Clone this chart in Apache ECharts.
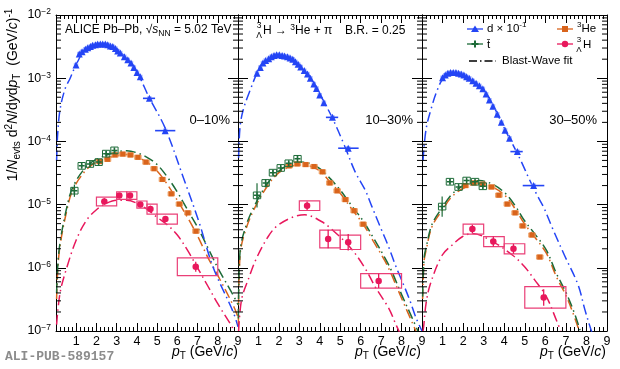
<!DOCTYPE html>
<html><head><meta charset="utf-8">
<script src="https://cdn.jsdelivr.net/npm/echarts@6.0.0/dist/echarts.min.js"></script>
<style>html,body{margin:0;padding:0;background:#fff;}#chart{width:620px;height:369px;}</style>
</head><body><div id="chart"></div>
<script>
// ================= DATA =================
const centralityLabels = ['0–10%', '10–30%', '30–50%'];
const xTickLabels = ['', '1', '2', '3', '4', '5', '6', '7', '8', '9'];
const yRange = [1e-7, 1e-2];

// deuteron (x 0.1) [pT, value]
const deut_0_10 = [[0.99,1.62e-3],[1.15,2.42e-3],[1.29,2.63e-3],[1.45,2.88e-3],[1.57,3.02e-3],[1.70,3.16e-3],[1.81,3.31e-3],[1.95,3.39e-3],[2.06,3.47e-3],[2.19,3.47e-3],[2.31,3.47e-3],[2.44,3.47e-3],[2.56,3.39e-3],[2.69,3.24e-3],[2.81,3.16e-3],[2.94,2.95e-3],[3.05,2.69e-3],[3.18,2.51e-3],[3.38,2.19e-3],[3.55,1.95e-3],[3.71,1.74e-3],[3.85,1.48e-3],[4.01,1.23e-3],[4.17,1.05e-3]];
const deut_10_30 = [[0.93,1.20e-3],[1.09,1.48e-3],[1.22,1.74e-3],[1.35,1.91e-3],[1.50,2.04e-3],[1.63,2.19e-3],[1.76,2.29e-3],[1.89,2.34e-3],[2.02,2.34e-3],[2.16,2.29e-3],[2.28,2.24e-3],[2.42,2.19e-3],[2.55,2.09e-3],[2.68,2.00e-3],[2.81,1.82e-3],[2.94,1.66e-3],[3.07,1.51e-3],[3.24,1.32e-3],[3.40,1.17e-3],[3.54,1.00e-3],[3.71,8.1e-4],[3.84,6.9e-4],[4.00,5.4e-4],[4.20,4.1e-4]];
const deut_30_50 = [[1.00,1.02e-3],[1.13,1.12e-3],[1.26,1.20e-3],[1.39,1.23e-3],[1.52,1.23e-3],[1.65,1.23e-3],[1.78,1.20e-3],[1.91,1.17e-3],[2.04,1.12e-3],[2.17,1.05e-3],[2.30,1.0e-3],[2.47,9.1e-4],[2.63,8.3e-4],[2.79,7.6e-4],[2.96,6.8e-4],[3.12,5.6e-4],[3.28,4.5e-4],[3.45,3.6e-4],[3.66,2.7e-4],[3.86,2.0e-4],[4.04,1.5e-4],[4.26,1.12e-4]];
// deuteron wide bins [pT, value, pTlow, pThigh]
const deutWide_0_10 = [[4.62,4.8e-4,4.3,4.9],[5.40,1.48e-4,4.9,5.9]];
const deutWide_10_30 = [[4.62,2.4e-4,4.3,4.9],[5.39,7.8e-5,4.9,5.9]];
const deutWide_30_50 = [[4.64,6.9e-5,4.3,4.9],[5.43,2.0e-5,4.9,5.95]];
const deutSysRel = 0.08;

// triton [pT, value, relative stat. error]
const tri_0_10 = [[0.91,1.66e-5,0.25],[1.27,4.1e-5,0.08],[1.68,4.4e-5,0.06],[2.11,4.7e-5,0.06],[2.48,6.4e-5,0.1],[2.89,7.2e-5,0.1]];
const tri_10_30 = [[0.93,1.4e-5,0.55],[1.35,2.2e-5,0.15],[1.71,3.2e-5,0.1],[2.09,3.8e-5,0.08],[2.48,4.5e-5,0.08],[2.91,5.3e-5,0.12]];
const tri_30_50 = [[0.98,9.3e-6,0.45],[1.36,2.3e-5,0.1],[1.78,1.9e-5,0.08],[2.17,2.4e-5,0.06],[2.58,2.3e-5,0.06],[2.96,1.95e-5,0.08]];
const triSysRel = 0.13;

// 3He [pT, value]
const he_0_10 = [[2.15,4.8e-5],[2.55,5.2e-5],[2.92,6.1e-5],[3.30,6.3e-5],[3.68,6.1e-5],[4.05,5.6e-5],[4.45,4.7e-5],[4.85,3.7e-5],[5.26,2.5e-5],[5.70,1.48e-5],[6.10,1.02e-5],[6.52,7.4e-6],[6.92,3.8e-6]];
const he_10_30 = [[2.50,4.1e-5],[2.90,4.4e-5],[3.31,4.3e-5],[3.72,4.0e-5],[4.13,3.3e-5],[4.49,2.2e-5],[4.85,1.65e-5],[5.25,1.2e-5],[5.68,8.0e-6],[6.12,4.9e-6]];
const he_30_50 = [[2.11,2.0e-5],[2.52,2.2e-5],[2.95,2.1e-5],[3.38,1.9e-5],[3.74,1.41e-5],[4.15,1.02e-5],[4.53,7.4e-6],[4.90,4.6e-6],[5.35,3.3e-6],[5.73,1.48e-6]];
const heSysRel = 0.08;

// hypertriton [pT, value, binLow, binHigh, rel. stat, rel. syst]
const hyp_0_10 = [[2.39,1.12e-5,2,3,0.13,0.17],[3.13,1.39e-5,3,3.5,0.10,0.15],[3.66,1.39e-5,3.5,4,0.10,0.15],[4.17,1.0e-5,4,4.5,0.10,0.14],[4.67,8.5e-6,4.5,5,0.13,0.2],[5.41,5.9e-6,5,6,0.12,0.2],[6.91,1.04e-6,6,8,0.2,0.38]];
const hyp_10_30 = [[3.38,9.6e-6,3,4,0.17,0.19],[4.41,2.86e-6,4,5,0.4,0.38],[5.39,2.53e-6,5,6,0.35,0.3],[6.88,6.2e-7,6,8,0.3,0.3]];
const hyp_30_50 = [[2.45,4.1e-6,2,3,0.17,0.2],[3.47,2.6e-6,3,4,0.2,0.2],[4.45,2.0e-6,4,5,0.2,0.2],[5.92,3.4e-7,5,7,0.35,0.48]];

// Blast-Wave fits [pT, value]
const fitD_0_10 = [[0.03,5.0e-5],[0.08,1.26e-4],[0.2,3.2e-4],[0.45,6.8e-4],[0.7,1.0e-3],[1.0,1.65e-3],[1.5,2.95e-3],[2.2,3.47e-3],[3.0,2.82e-3],[3.5,2.04e-3],[4.0,1.26e-3],[4.6,5.0e-4],[5.4,1.62e-4],[6.34,2.45e-5],[7.08,5.2e-6],[7.77,1.02e-6],[8.76,2.0e-7],[9.0,1.17e-7]];
const fitD_10_30 = [[0.03,5.5e-5],[0.1,1.7e-4],[0.26,3.2e-4],[0.59,6.4e-4],[1.0,1.32e-3],[1.5,2.04e-3],[2.0,2.4e-3],[2.5,2.24e-3],[3.0,1.62e-3],[3.5,1.05e-3],[4.0,5.6e-4],[4.6,2.4e-4],[5.2,8.7e-5],[5.73,3.3e-5],[6.22,1.7e-5],[6.55,9.3e-6],[6.99,4.2e-6],[7.37,2.14e-6],[7.7,1.1e-6],[8.1,5.4e-7],[8.43,2.9e-7],[8.68,1.7e-7],[9.0,1.0e-7]];
const fitD_30_50 = [[0.05,5.0e-5],[0.2,1.58e-4],[0.47,3.5e-4],[0.72,6.2e-4],[1.0,9.5e-4],[1.5,1.23e-3],[2.0,1.15e-3],[2.5,9.1e-4],[3.0,6.5e-4],[3.5,3.5e-4],[4.0,1.62e-4],[4.5,7.9e-5],[4.87,4.5e-5],[5.2,2.6e-5],[5.6,1.41e-5],[5.93,8.9e-6],[6.35,4.2e-6],[6.93,1.58e-6],[7.59,5.4e-7],[7.92,2.2e-7],[8.2,1.1e-7],[8.3,9e-8]];

const fitT_0_10 = [[0.03,4.0e-7],[0.16,2.0e-6],[0.6,1.12e-5],[0.9,2.1e-5],[1.5,4.0e-5],[2.0,5.2e-5],[3.0,6.8e-5],[3.5,7.1e-5],[4.0,6.6e-5],[4.5,5.6e-5],[5.0,4.3e-5],[5.5,2.75e-5],[6.0,1.58e-5],[6.5,8.3e-6],[7.0,4.4e-6],[7.5,2.1e-6],[8.0,1.0e-6],[8.8,3.5e-7],[9.0,2.6e-7]];
const fitT_10_30 = [[0.02,1.58e-7],[0.1,1.78e-6],[0.4,4.7e-6],[0.9,1.1e-5],[1.5,2.3e-5],[2.0,3.4e-5],[2.5,4.3e-5],[3.0,4.7e-5],[3.5,4.5e-5],[4.0,3.7e-5],[4.5,2.6e-5],[5.0,1.7e-5],[5.5,1.02e-5],[6.14,5.4e-6],[6.63,2.95e-6],[7.2,1.41e-6],[7.5,9.1e-7],[8.0,3.8e-7],[8.5,1.66e-7],[8.8,1.0e-7]];
const fitT_30_50 = [[0.03,3.5e-7],[0.1,1.41e-6],[0.2,2.1e-6],[0.49,4.9e-6],[0.98,8.9e-6],[1.47,1.48e-5],[2.13,2.1e-5],[2.78,2.4e-5],[3.43,2.1e-5],[4.08,1.48e-5],[4.58,9.1e-6],[4.98,5.6e-6],[5.47,3.5e-6],[6.05,1.9e-6],[6.54,8.1e-7],[7.03,3.9e-7],[7.44,1.82e-7],[7.7,1.0e-7]];

const fitHe_0_10 = [[0.03,3.2e-7],[0.16,1.78e-6],[0.6,1.0e-5],[0.9,1.9e-5],[1.5,3.55e-5],[2.0,4.7e-5],[3.0,6.0e-5],[3.5,6.2e-5],[4.0,5.6e-5],[4.5,4.7e-5],[5.0,3.4e-5],[5.5,2.1e-5],[6.0,1.17e-5],[6.5,6.3e-6],[7.0,3.2e-6],[7.5,1.48e-6],[8.0,7.6e-7],[8.8,2.4e-7],[9.0,1.66e-7]];
const fitHe_10_30 = [[0.02,1.26e-7],[0.1,1.58e-6],[0.4,4.2e-6],[0.9,1.0e-5],[1.5,2.1e-5],[2.0,3.2e-5],[2.5,3.9e-5],[3.0,4.3e-5],[3.5,4.1e-5],[4.0,3.4e-5],[4.5,2.3e-5],[5.0,1.51e-5],[5.5,9.1e-6],[6.14,4.8e-6],[6.63,2.6e-6],[7.2,1.26e-6],[7.5,7.9e-7],[8.0,3.3e-7],[8.5,1.41e-7],[8.7,1.0e-7]];
const fitHe_30_50 = [[0.03,3.2e-7],[0.1,1.26e-6],[0.2,1.9e-6],[0.49,4.5e-6],[0.98,8.1e-6],[1.47,1.35e-5],[2.13,1.9e-5],[2.78,2.2e-5],[3.43,1.9e-5],[4.08,1.35e-5],[4.58,8.1e-6],[4.98,5.0e-6],[5.47,3.1e-6],[6.05,1.7e-6],[6.54,7.2e-7],[7.03,3.5e-7],[7.44,1.58e-7],[7.65,1.0e-7]];

const fitH_0_10 = [[0.03,1.26e-7],[0.2,4.0e-7],[0.5,9.3e-7],[1.0,2.75e-6],[1.5,5.6e-6],[2.0,8.3e-6],[2.5,1.05e-5],[3.0,1.17e-5],[3.5,1.17e-5],[4.0,1.05e-5],[4.5,8.5e-6],[5.0,6.3e-6],[5.5,4.8e-6],[6.0,3.3e-6],[6.5,1.9e-6],[7.0,1.0e-6],[7.5,5.2e-7],[8.0,2.7e-7],[8.7,1.17e-7],[8.85,8.9e-8]];
const fitH_10_30 = [[0.03,1.0e-7],[0.18,3.2e-7],[0.55,7.2e-7],[0.9,1.41e-6],[1.47,3.1e-6],[1.88,4.5e-6],[2.61,6.2e-6],[3.27,6.9e-6],[4.08,5.4e-6],[4.57,4.1e-6],[5.47,2.14e-6],[6.22,9.8e-7],[6.71,5.0e-7],[7.37,2.3e-7],[7.7,1.32e-7],[7.9,9.5e-8]];
const fitH_30_50 = [[0.05,1.0e-7],[0.08,1.17e-7],[0.2,2.75e-7],[0.41,5.6e-7],[0.98,1.58e-6],[1.47,2.3e-6],[1.96,3.1e-6],[2.45,3.5e-6],[3.43,2.6e-6],[4.41,1.58e-6],[4.98,1.05e-6],[5.47,6.5e-7],[6.05,3.5e-7],[6.54,1.48e-7],[6.75,1.0e-7]];

// ================= STYLE =================
const FONT = '"Liberation Sans", Arial, Helvetica, sans-serif';
const COL = {d:'#2445f5', dBox:'#a9b9ff', t:'#1d6b38', he:'#d9641c', heBox:'rgba(238,140,70,0.75)', heBoxLine:'#ec9a5c', h:'#e8185c', hBox:'#ea3f77'};
const DASH = [10, 4, 1.5, 4];
const grids = [
  {left:56, top:15, width:182, height:316},
  {left:238, top:15, width:184, height:316},
  {left:422, top:15, width:185, height:316}
];
const BOX_HW = {d:0.11, t:0.18, he:0.16};

const panels = [
  {deut:deut_0_10, deutWide:deutWide_0_10, tri:tri_0_10, he:he_0_10, hyp:hyp_0_10, fD:fitD_0_10, fT:fitT_0_10, fHe:fitHe_0_10, fH:fitH_0_10},
  {deut:deut_10_30, deutWide:deutWide_10_30, tri:tri_10_30, he:he_10_30, hyp:hyp_10_30, fD:fitD_10_30, fT:fitT_10_30, fHe:fitHe_10_30, fH:fitH_10_30},
  {deut:deut_30_50, deutWide:deutWide_30_50, tri:tri_30_50, he:he_30_50, hyp:hyp_30_50, fD:fitD_30_50, fT:fitT_30_50, fHe:fitHe_30_50, fH:fitH_30_50}
];

const yMinorTicks = [];
for (let e = -7; e < -2; e++) for (let m = 2; m <= 9; m++) yMinorTicks.push([0, Number((m * Math.pow(10, e)).toPrecision(3))]);

function axIdx(i){ return {xAxisIndex: 2*i, yAxisIndex: 2*i}; }

function rectSeries(i, items, style, z){
  return Object.assign({type:'custom', z:z, silent:true, clip:false, data:items,
    encode:{x:[0,1], y:[2,3]},
    renderItem:(p, api) => {
      const a = api.coord([api.value(0), api.value(3)]);
      const b = api.coord([api.value(1), api.value(2)]);
      return {type:'rect', shape:{x:a[0], y:a[1], width:b[0]-a[0], height:b[1]-a[1]}, style:style};
    }}, axIdx(i));
}
function vbarSeries(i, items, color, w, z){
  return Object.assign({type:'custom', z:z, silent:true, clip:false, data:items,
    encode:{x:0, y:[1,2]},
    renderItem:(p, api) => {
      const a = api.coord([api.value(0), api.value(1)]);
      const b = api.coord([api.value(0), api.value(2)]);
      return {type:'line', shape:{x1:a[0], y1:a[1], x2:b[0], y2:b[1]}, style:{stroke:color, lineWidth:w}};
    }}, axIdx(i));
}
function hbarSeries(i, items, color, w, z){
  return Object.assign({type:'custom', z:z, silent:true, clip:false, data:items,
    encode:{x:[0,1], y:2},
    renderItem:(p, api) => {
      const a = api.coord([api.value(0), api.value(2)]);
      const b = api.coord([api.value(1), api.value(2)]);
      return {type:'line', shape:{x1:a[0], y1:a[1], x2:b[0], y2:b[1]}, style:{stroke:color, lineWidth:w}};
    }}, axIdx(i));
}
function fitSeries(i, data, color){
  return Object.assign({type:'line', data:data, showSymbol:false, smooth:0.35, z:2, silent:true,
    lineStyle:{color:color, width:1.5, type:DASH}}, axIdx(i));
}
function scatterSeries(i, data, symbol, size, color, z){
  return Object.assign({type:'scatter', data:data, symbol:symbol, symbolSize:size, z:z, silent:true,
    itemStyle:{color:color, opacity:1}}, axIdx(i));
}
const PLUS = 'path://M3,0H5V3H8V5H5V8H3V5H0V3H3Z';

const series = [];
panels.forEach((P, i) => {
  series.push(fitSeries(i, P.fHe, COL.he));
  series.push(fitSeries(i, P.fT, COL.t));
  series.push(fitSeries(i, P.fH, COL.h));
  series.push(fitSeries(i, P.fD, COL.d));
  // deuteron
  const dAll = P.deut.concat(P.deutWide.map(r => [r[0], r[1]]));
  series.push(rectSeries(i, dAll.map(r => [r[0]-BOX_HW.d, r[0]+BOX_HW.d, r[1]/(1+deutSysRel), r[1]*(1+deutSysRel)]), {fill:COL.dBox, stroke:null}, 4));
  series.push(hbarSeries(i, P.deutWide.map(r => [r[2], r[3], r[1]]), COL.d, 1.6, 5));
  series.push(scatterSeries(i, dAll.map(r => [r[0], r[1]]), 'triangle', 7, COL.d, 6));
  // 3He
  series.push(rectSeries(i, P.he.map(r => [r[0]-BOX_HW.he, r[0]+BOX_HW.he, r[1]/(1+heSysRel), r[1]*(1+heSysRel)]), {fill:COL.heBox, stroke:COL.heBoxLine, lineWidth:0.8}, 4));
  series.push(scatterSeries(i, P.he.map(r => [r[0], r[1]]), 'rect', 5, COL.he, 6));
  // triton
  series.push(rectSeries(i, P.tri.map(r => [r[0]-BOX_HW.t, r[0]+BOX_HW.t, r[1]/(1+triSysRel), r[1]*(1+triSysRel)]), {fill:'rgba(255,255,255,0)', stroke:COL.t, lineWidth:1}, 7));
  series.push(vbarSeries(i, P.tri.map(r => [r[0], r[1]/(1+r[2]), r[1]*(1+r[2])]), COL.t, 1.2, 7));
  series.push(scatterSeries(i, P.tri.map(r => [r[0], r[1]]), PLUS, 6, COL.t, 8));
  // hypertriton
  series.push(rectSeries(i, P.hyp.map(r => [r[2], r[3], r[1]/(1+r[5]), r[1]*(1+r[5])]), {fill:'rgba(255,255,255,0)', stroke:COL.hBox, lineWidth:1.2}, 9));
  series.push(vbarSeries(i, P.hyp.map(r => [r[0], r[1]/(1+r[4]), r[1]*(1+r[4])]), COL.h, 1.3, 9));
  series.push(scatterSeries(i, P.hyp.map(r => [r[0], r[1]]), 'circle', 6.5, COL.h, 10));
  // log minor ticks (left & right)
  series.push(Object.assign({type:'custom', z:20, silent:true, clip:false, data:yMinorTicks,
    renderItem:(p, api) => {
      const v = api.value(1);
      const L = api.coord([0, v]); const R = api.coord([9, v]);
      return {type:'group', children:[
        {type:'line', shape:{x1:L[0], y1:L[1], x2:L[0]+5, y2:L[1]}, style:{stroke:'#000', lineWidth:1}},
        {type:'line', shape:{x1:R[0], y1:R[1], x2:R[0]-5, y2:R[1]}, style:{stroke:'#000', lineWidth:1}}
      ]};
    }}, axIdx(i)));
});

const xAxes = [], yAxes = [];
grids.forEach((g, i) => {
  const base = {type:'value', gridIndex:i, min:0, max:9, interval:1,
    axisLine:{onZero:false, lineStyle:{color:'#000', width:1}},
    axisTick:{inside:true, length:8, lineStyle:{color:'#000', width:1}},
    minorTick:{show:true, splitNumber:5, length:4, lineStyle:{color:'#000', width:1}},
    splitLine:{show:false}, minorSplitLine:{show:false}};
  xAxes.push(Object.assign({}, base, {position:'bottom',
    axisLabel:{show:true, color:'#000', fontSize:12.5, fontFamily:FONT, margin:4,
      formatter:v => xTickLabels[Math.round(v)] || ''}}));
  xAxes.push(Object.assign({}, base, {position:'top', axisLabel:{show:false}}));
  const ybase = {type:'log', logBase:10, gridIndex:i, min:yRange[0], max:yRange[1], splitNumber:5,
    axisLine:{onZero:false, lineStyle:{color:'#000', width:1}},
    axisTick:{inside:true, length:10, lineStyle:{color:'#000', width:1}},
    splitLine:{show:false}};
  yAxes.push(Object.assign({}, ybase, {position:'left',
    axisLabel:{show:i === 0, margin:5,
      formatter:v => '{b|10}{e|−' + Math.round(-Math.log10(v)) + '}',
      rich:{b:{fontSize:12.5, fontFamily:FONT, color:'#000', lineHeight:15}, e:{fontSize:8.5, fontFamily:FONT, color:'#000', verticalAlign:'top', lineHeight:9}}}}));
  yAxes.push(Object.assign({}, ybase, {position:'right', axisLabel:{show:false}}));
});

function mkRich(fs, ss){
  return {
    n:{fontSize:fs, fontFamily:FONT, lineHeight:fs + 4},
    i:{fontSize:fs, fontFamily:FONT, fontStyle:'italic', lineHeight:fs + 4},
    sup:{fontSize:ss, fontFamily:FONT, verticalAlign:'top', lineHeight:ss},
    sub:{fontSize:ss, fontFamily:FONT, verticalAlign:'bottom', lineHeight:ss}
  };
}
const R12 = mkRich(12, 8.5), R13 = mkRich(13, 9), R115 = mkRich(11.5, 8), XR = mkRich(14, 10);
function T(x, y, text, extra){
  return {type:'text', x:x, y:y, z:100, silent:true,
    style:Object.assign({text:text, fill:'#000', font:'13px ' + FONT, rich:R13, verticalAlign:'middle', align:'left'}, extra || {})};
}
const xTitle = '{i|p}{sub|T}{n| (GeV/}{i|c}{n|)}';

const graphic = [
  // header texts
  T(65, 30, '{n|ALICE Pb–Pb, √}{i|s}{sub|NN}{n| = 5.02 TeV}', {rich:R12, font:'12px ' + FONT}),
  T(259, 26, '3', {font:'8.5px ' + FONT, align:'center'}),
  T(259, 36, 'Λ', {font:'8.5px ' + FONT, align:'center'}),
  T(263, 31, '{n|H → }{sup|3}{n|He + π}', {rich:R12, font:'12px ' + FONT}),
  T(345, 31, 'B.R. = 0.25', {font:'12px ' + FONT}),
  // centralities
  T(230, 120, centralityLabels[0], {align:'right'}),
  T(413, 120, centralityLabels[1], {align:'right'}),
  T(597, 120, centralityLabels[2], {align:'right'}),
  // legend
  {type:'line', z:100, shape:{x1:467, y1:29, x2:483, y2:29}, style:{stroke:COL.d, lineWidth:1.3}},
  {type:'polygon', z:100, shape:{points:[[475,25.5],[479,32],[471,32]]}, style:{fill:COL.d}},
  T(487, 29, '{n|d × 10}{sup|-1}', {rich:R115, font:'11.5px ' + FONT}),
  {type:'line', z:100, shape:{x1:557, y1:29, x2:573, y2:29}, style:{stroke:COL.he, lineWidth:1.3}},
  {type:'rect', z:100, shape:{x:562, y:26, width:6, height:6}, style:{fill:COL.he}},
  T(577, 29, '{sup|3}{n|He}', {rich:R115, font:'11.5px ' + FONT}),
  {type:'line', z:100, shape:{x1:467, y1:44, x2:483, y2:44}, style:{stroke:COL.t, lineWidth:1.3}},
  {type:'polygon', z:100, shape:{points:[[474,40.5],[476,40.5],[476,43],[478.5,43],[478.5,45],[476,45],[476,47.5],[474,47.5],[474,45],[471.5,45],[471.5,43],[474,43]]}, style:{fill:COL.t}},
  T(487, 45, 't̄', {font:'11.5px ' + FONT}),
  {type:'line', z:100, shape:{x1:557, y1:44, x2:573, y2:44}, style:{stroke:COL.h, lineWidth:1.3}},
  {type:'circle', z:100, shape:{cx:565, cy:44, r:3.2}, style:{fill:COL.h}},
  T(579, 40, '3', {font:'8px ' + FONT, align:'center'}),
  T(579, 50, 'Λ', {font:'8px ' + FONT, align:'center'}),
  T(583, 45, 'H', {font:'11.5px ' + FONT}),
  {type:'line', z:100, shape:{x1:469, y1:61, x2:496, y2:61}, style:{stroke:'#000', lineWidth:1.6, lineDash:[8,3,1.5,3]}},
  T(502, 61, 'Blast-Wave fit', {font:'11.5px ' + FONT}),
  // x-axis titles
  T(238, 352, xTitle, {align:'right', rich:XR, font:'14px ' + FONT}),
  T(421, 352, xTitle, {align:'right', rich:XR, font:'14px ' + FONT}),
  T(606, 352, xTitle, {align:'right', rich:XR, font:'14px ' + FONT}),
  // y-axis title (rotated)
  {type:'text', x:13, y:95, rotation:Math.PI/2, z:100, silent:true,
    style:{text:'{n|1/}{i|N}{sub|evts}{n| d}{sup|2}{i|N}{n|/d}{i|y}{n|d}{i|p}{sub|T}{n|  (GeV/}{i|c}{n|)}{sup|-1}',
      rich:XR, font:'14px ' + FONT, fill:'#000', align:'center', verticalAlign:'middle'}},
  // footer tag
  {type:'text', x:5, y:357, z:100, silent:true,
    style:{text:'ALI-PUB-589157', font:'bold 13px "Liberation Mono", "DejaVu Sans Mono", monospace', fill:'#8c8c8c', verticalAlign:'middle'}}
];

const chart = echarts.init(document.getElementById('chart'), null, {renderer:'canvas'});
chart.setOption({
  animation:false,
  backgroundColor:'#fff',
  grid:grids.map(g => Object.assign({containLabel:false, outerBoundsMode:'none'}, g)),
  xAxis:xAxes,
  yAxis:yAxes,
  series:series,
  graphic:graphic
});
</script>
</body></html>
